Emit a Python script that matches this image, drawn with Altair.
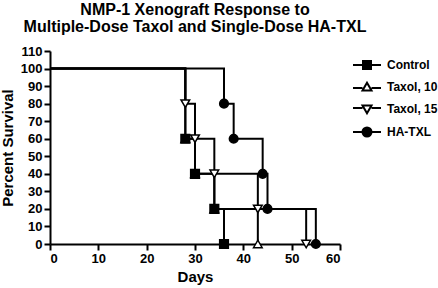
import altair as alt
import pandas as pd

series_names = ["Control", "Taxol, 10", "Taxol, 15", "HA-TXL"]

control_days = [0, 28, 30, 34, 36]
control_pct = [100, 60, 40, 20, 0]

taxol10_days = [0, 28, 30, 34, 43]
taxol10_pct = [100, 60, 40, 20, 0]

taxol15_days = [0, 28, 30, 34, 43, 53]
taxol15_pct = [100, 80, 60, 40, 20, 0]

hatxl_days = [0, 36, 38, 44, 45, 55]
hatxl_pct = [100, 80, 60, 40, 20, 0]

x_ticks = [0, 10, 20, 30, 40, 50, 60]
y_ticks = [0, 10, 20, 30, 40, 50, 60, 70, 80, 90, 100, 110]

draw_order = {"Taxol, 10": 0, "Taxol, 15": 1, "HA-TXL": 2, "Control": 3}

rows = []
for name, days, pct in [
    ("Control", control_days, control_pct),
    ("Taxol, 10", taxol10_days, taxol10_pct),
    ("Taxol, 15", taxol15_days, taxol15_pct),
    ("HA-TXL", hatxl_days, hatxl_pct),
]:
    for i, (d, p) in enumerate(zip(days, pct)):
        rows.append({"series": name, "day": d, "pct": p, "event": i > 0,
                     "ord": draw_order[name]})
df = pd.DataFrame(rows)

FONT = "Liberation Sans"

x_enc = alt.X("day:Q", scale=alt.Scale(domain=[0, 60], nice=False),
              axis=alt.Axis(values=x_ticks, title="Days"))
y_enc = alt.Y("pct:Q", scale=alt.Scale(domain=[0, 110], nice=False),
              axis=alt.Axis(values=y_ticks, title="Percent Survival"))

lines = alt.Chart(df).mark_line(interpolate="step-after", color="black",
                                strokeWidth=2).encode(
    x=x_enc, y=y_enc, detail="series:N", order="day:Q")

plot_shapes = ["square", "triangle-up", "triangle-down", "circle"]
fills = ["black", "white", "white", "black"]
strokes = ["black", "black", "black", "black"]

points = alt.Chart(df).transform_filter("datum.event").mark_point(
    filled=True, stroke="black", strokeWidth=1.5, size=75, opacity=1).encode(
    x=x_enc, y=y_enc,
    shape=alt.Shape("series:N", scale=alt.Scale(domain=series_names, range=plot_shapes),
                    legend=None),
    fill=alt.Fill("series:N", scale=alt.Scale(domain=series_names, range=fills),
                  legend=None),
    order=alt.Order("ord:Q"),
)

legend_shapes = [
    "M-1.4,0L-0.4,0M0.4,0L1.4,0M-0.4,-0.4L0.4,-0.4L0.4,0.4L-0.4,0.4Z",
    "M-1.4,0.1L-0.45,0.1M0.45,0.1L1.4,0.1M0,-0.42L0.45,0.35L-0.45,0.35Z",
    "M-1.4,-0.1L-0.45,-0.1M0.45,-0.1L1.4,-0.1M0,0.42L0.45,-0.35L-0.45,-0.35Z",
    "M-1.4,0L-0.45,0M0.45,0L1.4,0M0.45,0A0.45,0.45 0 1,1 -0.45,0A0.45,0.45 0 1,1 0.45,0Z",
]

leg = alt.Legend(title=None, orient="none", legendX=306, legendY=3,
                 symbolSize=400, symbolStrokeWidth=2,
                 labelFont=FONT, labelFontSize=12, labelFontWeight="bold",
                 labelColor="black", labelOffset=9, rowPadding=3)

legend_layer = alt.Chart(df).transform_filter("false").mark_point(
    filled=True, opacity=1).encode(
    x=x_enc, y=y_enc,
    shape=alt.Shape("series:N", scale=alt.Scale(domain=series_names, range=legend_shapes),
                    legend=leg),
    fill=alt.Fill("series:N", scale=alt.Scale(domain=series_names, range=fills),
                  legend=leg),
    stroke=alt.Stroke("series:N", scale=alt.Scale(domain=series_names, range=strokes),
                      legend=leg),
)

chart = alt.layer(lines, points, legend_layer).resolve_scale(
    shape="independent", fill="independent", stroke="independent"
).properties(
    width=290, height=193,
    autosize=alt.AutoSizeParams(type="none"),
    padding={"left": 50, "top": 51, "right": 98, "bottom": 44},
    title=alt.TitleParams(
        text=["NMP-1 Xenograft Response to", "Multiple-Dose Taxol and Single-Dose HA-TXL"],
        font=FONT, fontSize=16, fontWeight="bold", lineHeight=17, color="black",
        anchor="middle", offset=10),
).configure_view(stroke=None).configure_axis(
    grid=False, domainColor="black", domainWidth=2, tickColor="black",
    tickWidth=2, tickSize=6, labelFont=FONT, labelFontSize=13,
    labelFontWeight="bold", labelColor="black", titleFont=FONT,
    titleFontSize=15, titleFontWeight="bold", titleColor="black",
    labelPadding=2,
).configure_axisY(titlePadding=5).configure_axisX(titlePadding=4)

chart.save("out.html", embed_options={"renderer": "svg", "actions": False})
